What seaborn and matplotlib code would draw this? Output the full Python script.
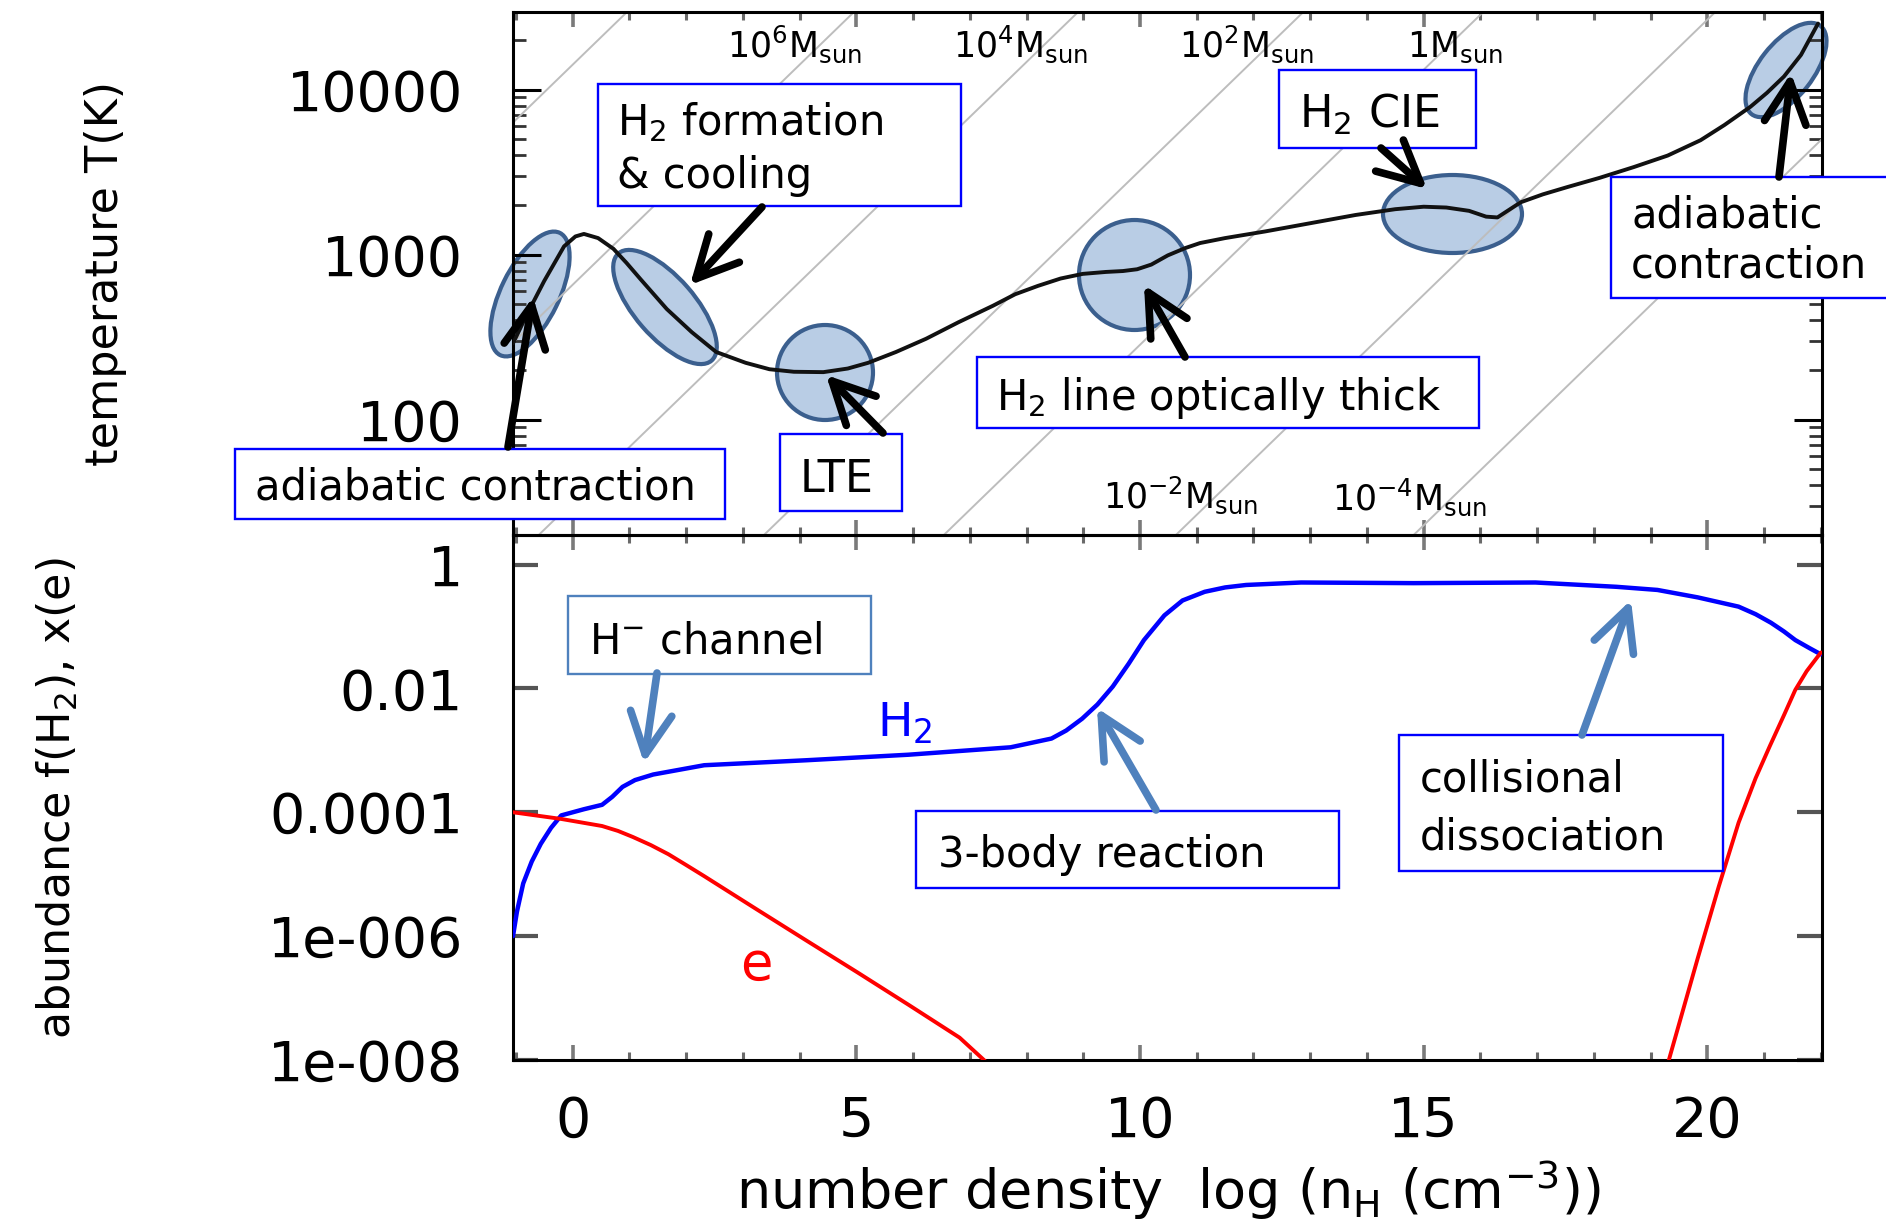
import numpy as np
import pandas as pd
import matplotlib
matplotlib.use("Agg")
import matplotlib.pyplot as plt
import seaborn as sns
from matplotlib.patches import Ellipse, Rectangle, FancyArrowPatch, ArrowStyle
from matplotlib.transforms import IdentityTransform
from matplotlib.ticker import FixedLocator, NullLocator, NullFormatter, LogLocator

# ---------------- data ----------------
log_n_T = [-1.05, -0.8, -0.5, -0.15, 0.05, 0.2, 0.45, 0.72, 0.95, 1.2, 1.66, 2.1,
           2.53, 3.05, 3.47, 3.9, 4.42, 4.85, 5.21, 5.7, 6.23, 6.8, 7.41, 7.8, 8.2,
           8.6, 8.99, 9.4, 9.7, 9.95, 10.2, 10.49, 10.8, 11.06, 11.5, 12.2, 13.0,
           13.8, 14.5, 15.0, 15.4, 15.8, 16.1, 16.3, 16.5, 16.71, 17.1, 17.53, 18.1,
           18.7, 19.3, 19.88, 20.3, 20.76, 21.05, 21.35, 21.65, 21.95]
temperature_K = [290, 437, 692, 1122, 1288, 1334, 1259, 1084, 891, 708, 468, 339,
                 257, 221, 202, 195, 194, 204, 221, 257, 309, 389, 490, 575, 646,
                 716, 764, 785, 795, 815, 870, 989, 1096, 1175, 1259, 1380, 1549,
                 1738, 1884, 1950, 1928, 1841, 1698, 1679, 1862, 2075, 2317, 2564,
                 2917, 3388, 3981, 4932, 6095, 7870, 9550, 11995, 16218, 25100]

log_n_H2 = [-1.05, -0.98, -0.87, -0.72, -0.56, -0.38, -0.2, 0.2, 0.52, 0.7, 0.88,
            1.1, 1.42, 2.32, 4.12, 5.92, 7.72, 8.44, 8.7, 8.98, 9.25, 9.52, 9.8,
            10.07, 10.43, 10.75, 11.14, 11.5, 11.87, 12.84, 14.82, 16.97, 18.4,
            19.12, 19.83, 20.55, 20.85, 21.12, 21.35, 21.55, 21.8, 22.0]
f_H2 = [1.0e-6, 2.5e-6, 7.1e-6, 1.6e-5, 3.1e-5, 5.6e-5, 8.9e-5, 1.12e-4, 1.32e-4,
        1.78e-4, 2.57e-4, 3.31e-4, 4.07e-4, 5.75e-4, 6.92e-4, 8.5e-4, 1.12e-3,
        1.55e-3, 2.09e-3, 3.24e-3, 5.5e-3, 1.07e-2, 2.5e-2, 6.03e-2, 0.151, 0.263,
        0.363, 0.427, 0.468, 0.513, 0.501, 0.513, 0.437, 0.389, 0.295, 0.209,
        0.158, 0.115, 0.083, 0.0603, 0.0447, 0.0355]

log_n_e_low = [-1.05, -0.2, 0.52, 0.8, 1.06, 1.38, 1.69, 2.0, 2.32, 3.22, 4.12,
               5.02, 5.92, 6.82, 7.25, 7.6]
x_e_low = [1.0e-4, 7.8e-5, 6.0e-5, 5.0e-5, 4.0e-5, 2.95e-5, 2.1e-5, 1.41e-5,
           9.3e-6, 2.8e-6, 8.5e-7, 2.6e-7, 7.8e-8, 2.3e-8, 1.0e-8, 5.0e-9]
log_n_e_high = [19.2, 19.33, 19.83, 20.2, 20.55, 20.85, 21.1, 21.35, 21.55, 21.75, 22.0]
x_e_high = [4.0e-9, 1.07e-8, 4.4e-7, 6.3e-6, 6.8e-5, 3.55e-4, 1.17e-3, 3.7e-3,
            9.5e-3, 1.9e-2, 3.8e-2]

# Jeans-mass guide lines: position (log n) where each line crosses T = 100 K
jeans_labels = ["1e8", "1e6", "1e4", "1e2", "1", "1e-2", "1e-4"]
jeans_x_at_100K = [-6.45, -2.45, 1.5, 5.47, 8.64, 12.73, 16.92]

T_ticks = [100, 1000, 10000]
T_ticklabels = ["100", "1000", "10000"]
abund_ticks = [1, 1e-2, 1e-4, 1e-6, 1e-8]
abund_ticklabels = ["1", "0.01", "0.0001", "1e-006", "1e-008"]
x_ticks = [0, 5, 10, 15, 20]
x_ticklabels = ["0", "5", "10", "15", "20"]

# ---------------- style ----------------
sns.set_theme(style="white")
plt.rcParams['font.family'] = ['DejaVu Sans']
plt.rcParams['mathtext.default'] = 'regular'
plt.rcParams['text.color'] = 'black'
plt.rcParams['axes.labelcolor'] = 'black'

W, H = 1886, 1229
fig = plt.figure(figsize=(W / 100, H / 100), dpi=100)
fig.patch.set_facecolor("white")
L, R, TOP, MID, BOT = 513, 1822, 12, 535, 1060
ax_b = fig.add_axes([L / W, 1 - BOT / H, (R - L) / W, (BOT - MID) / H])
ax_t = fig.add_axes([L / W, 1 - MID / H, (R - L) / W, (MID - TOP) / H])
# the top panel is drawn above the highlight ellipses so the curve stays visible
ax_t.set_zorder(5)
ax_t.patch.set_alpha(0)

XLIM = (-1.05, 22.02)

# ---------------- top panel ----------------
ax_t.set_yscale("log")
guide_rows = []
for lab, x100 in zip(jeans_labels, jeans_x_at_100K):
    for xv in XLIM:
        guide_rows.append({"mass": lab, "x": xv, "T": 100 * 10 ** ((xv - x100) / 3.0)})
guides = pd.DataFrame(guide_rows)
sns.lineplot(data=guides, x="x", y="T", units="mass", estimator=None, color="#bdbdbd",
             lw=1.4, ax=ax_t, legend=False, zorder=1)
sns.lineplot(x=log_n_T, y=temperature_K, color="#111111", lw=2.8, ax=ax_t,
             estimator=None, sort=False, zorder=3)
ax_t.set_xlim(*XLIM)
ax_t.set_ylim(20, 29500)
ax_t.set_xlabel("")
ax_t.set_ylabel("")

# ---------------- bottom panel ----------------
ax_b.set_yscale("log")
sns.lineplot(x=log_n_H2, y=f_H2, color="#0000ff", lw=3.2, ax=ax_b, estimator=None, zorder=3)
e_df = pd.DataFrame({
    "x": log_n_e_low + log_n_e_high,
    "xe": x_e_low + x_e_high,
    "seg": ["low"] * len(log_n_e_low) + ["high"] * len(log_n_e_high),
})
sns.lineplot(data=e_df, x="x", y="xe", units="seg", estimator=None, color="#ff0000",
             lw=2.8, ax=ax_b, legend=False, zorder=3)
ax_b.set_xlim(*XLIM)
ax_b.set_ylim(1e-8, 3.0)
ax_b.set_xlabel("")
ax_b.set_ylabel("")

# ---------------- ticks & spines ----------------
for ax in (ax_t, ax_b):
    for s in ax.spines.values():
        s.set_visible(True)
        s.set_color("black")
        s.set_linewidth(2.2)
    ax.xaxis.set_major_locator(FixedLocator(x_ticks))
    ax.xaxis.set_minor_locator(FixedLocator([v for v in range(-1, 23) if v % 5 != 0]))
    ax.tick_params(axis="x", which="major", direction="in", top=True, bottom=True,
                   length=11, width=2.6, color="#7a7a7a")
    ax.tick_params(axis="x", which="minor", direction="in", top=True, bottom=True,
                   length=5.5, width=2.2, color="#6a6a6a")
    ax.tick_params(axis="both", labelsize=40, labelcolor="black")
    ax.grid(False)

ax_t.xaxis.set_major_formatter(NullFormatter())
ax_t.yaxis.set_major_locator(FixedLocator(T_ticks))
ax_t.yaxis.set_minor_locator(LogLocator(base=10, subs=np.arange(2, 10)))
ax_t.yaxis.set_minor_formatter(NullFormatter())
ax_t.set_yticklabels(T_ticklabels)
ax_t.tick_params(axis="y", which="major", direction="in", left=True, right=True,
                 length=20, width=2.2, color="black", pad=36)
ax_t.tick_params(axis="y", which="minor", direction="in", left=True, right=True,
                 length=9.5, width=2.0, color="#333333")

ax_b.set_xticklabels(x_ticklabels)
ax_b.tick_params(axis="x", which="major", pad=25)
ax_b.yaxis.set_major_locator(FixedLocator(abund_ticks))
ax_b.yaxis.set_minor_locator(NullLocator())
ax_b.set_yticklabels(abund_ticklabels)
ax_b.tick_params(axis="y", which="major", direction="in", left=True, right=True,
                 length=18, width=3.0, color="#555555", pad=36)

# ---------------- axis labels ----------------
fig.text(106 / W, 1 - 274 / H, "temperature T(K)", rotation=90, fontsize=32,
         ha="center", va="center", color="black")
fig.text(57 / W, 1 - 798 / H, "abundance f(H$_2$), x(e)", rotation=90, fontsize=32,
         ha="center", va="center", color="black")
fig.text(1168 / W, 1 - 1209 / H, "number density  log (n$_H$ (cm$^{-3}$))",
         fontsize=39, ha="center", va="baseline", color="black")

# ---------------- Jeans-mass labels ----------------
mass_texts = [("10$^{6}$M$_{sun}$", 727, 57), ("10$^{4}$M$_{sun}$", 953, 57),
              ("10$^{2}$M$_{sun}$", 1179, 57), ("1M$_{sun}$", 1407, 57),
              ("10$^{-2}$M$_{sun}$", 1103, 508), ("10$^{-4}$M$_{sun}$", 1332, 510)]
for txt, px, py in mass_texts:
    fig.text(px / W, 1 - py / H, txt, fontsize=25, ha="left", va="baseline", zorder=5,
             color="black")

# ---------------- helpers in pixel space ----------------
ID = IdentityTransform()


def P(x, y):
    return (x, H - y)


def box(x0, y0, x1, y1, ec="#0000ff"):
    r = Rectangle(P(x0, y1), x1 - x0, y1 - y0, transform=ID, facecolor="white",
                  edgecolor=ec, lw=1.7, zorder=6)
    fig.add_artist(r)


def label(x, y, s, size=30, color="black"):
    fig.text(x / W, 1 - y / H, s, fontsize=size, ha="left", va="baseline",
             color=color, zorder=7)


def arrow(tail, tip, color):
    a = FancyArrowPatch(P(*tail), P(*tip),
                        arrowstyle=ArrowStyle("->", head_length=3.0, head_width=1.5),
                        mutation_scale=10, lw=5.5, color=color, transform=ID,
                        shrinkA=0, shrinkB=0, capstyle="round", joinstyle="round",
                        zorder=8)
    fig.add_artist(a)


# ellipses (highlight regions)
ellipses = [((530, 294), 136, 58, 64), ((665, 307), 142, 60, -49),
            ((825, 372.5), 96, 95, 0), ((1134.5, 275), 111, 110, 0),
            ((1452.5, 214), 139, 78, 0), ((1786, 70), 112, 54, 52)]
for (cx, cy), w, h, ang in ellipses:
    e = Ellipse(P(cx, cy), w, h, angle=ang, transform=ID,
                facecolor="#b9cde5", edgecolor="#3b5f8e", lw=3.0, zorder=4)
    fig.add_artist(e)

# boxes and texts (top panel)
box(235, 448.5, 725, 519)
label(255, 500, "adiabatic contraction")
box(598, 84, 961, 206)
label(617, 135, "H$_2$ formation")
label(617, 188, "& cooling")
box(780, 433.5, 902, 511)
label(800, 492, "LTE", size=32)
box(977, 357, 1479, 428)
label(996, 410, "H$_2$ line optically thick")
box(1279, 70, 1476, 148)
label(1299, 128, "H$_2$ CIE", size=32)
box(1611, 177, 1900, 298)
label(1631, 227, "adiabatic")
label(1631, 278, "contraction")

# boxes and texts (bottom panel)
box(568, 596, 871, 674, ec="#4f81bd")
label(589, 653, "H$^{-}$ channel")
box(916, 811, 1339, 888)
label(938, 867, "3-body reaction")
box(1399, 735, 1723, 871)
label(1420, 792, "collisional")
label(1420, 850, "dissociation")

label(877, 737, "H$_2$", size=34, color="#0000ff")
label(740, 980, "e", size=38, color="#ff0000")

# arrows
for tail, tip in [((508, 447), (533, 297)), ((762, 207), (690, 285)),
                  ((883, 433), (826, 375)), ((1185, 357), (1144, 285)),
                  ((1381, 148), (1427, 189)), ((1779, 177), (1791, 73))]:
    arrow(tail, tip, "black")
for tail, tip in [((657, 673), (644, 763)), ((1156, 810), (1097, 708)),
                  ((1582, 735), (1631, 600))]:
    arrow(tail, tip, "#4f81bd")

fig.savefig("out.png", dpi=100)
